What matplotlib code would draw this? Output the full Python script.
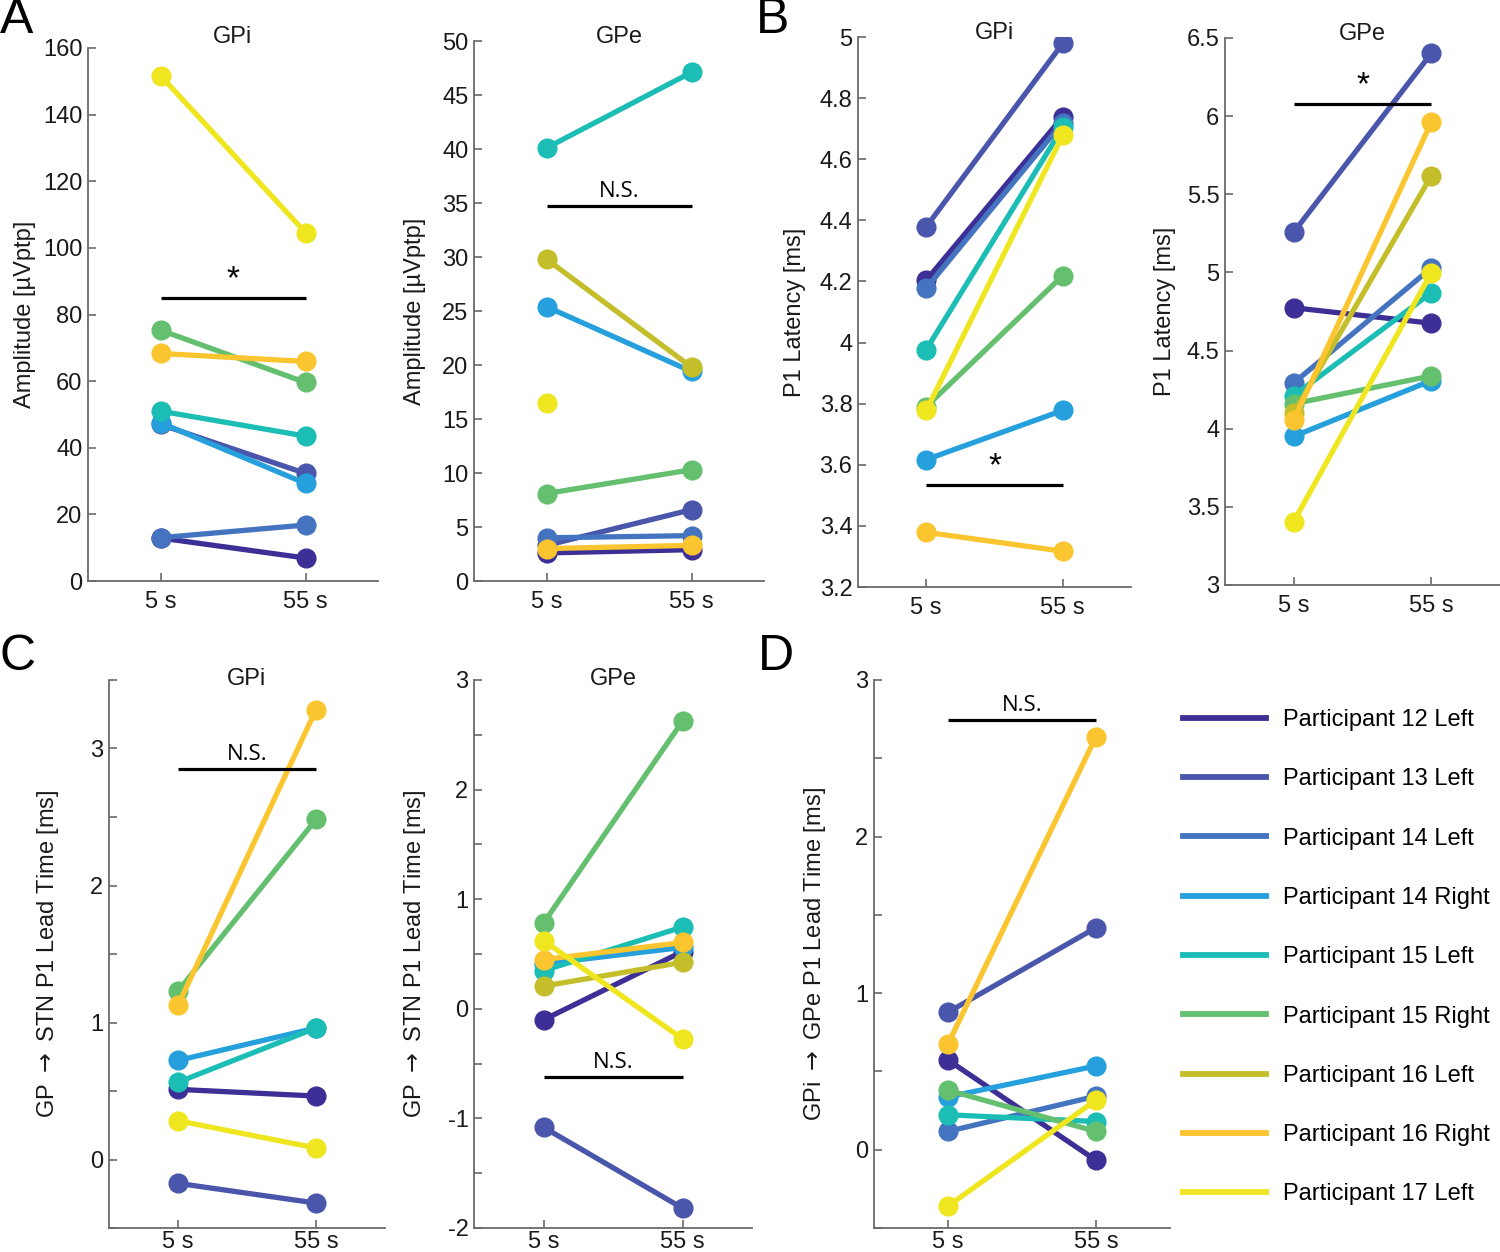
import numpy as np
import matplotlib
matplotlib.use("Agg")
import matplotlib.pyplot as plt
from matplotlib.ticker import FuncFormatter

plt.rcParams['font.family'] = ['Liberation Sans', 'DejaVu Sans']

# participants and colours (parula-like)
participants = ["Participant 12 Left", "Participant 13 Left", "Participant 14 Left",
                "Participant 14 Right", "Participant 15 Left", "Participant 15 Right",
                "Participant 16 Left", "Participant 16 Right", "Participant 17 Left"]
colors = ["#3c2f96", "#4a56ab", "#4473c0", "#25a0dc", "#1bbdb5",
          "#64bf6f", "#c4be2a", "#fbc52f", "#f0e620"]
time_labels = ["5 s", "55 s"]
nan = np.nan

# A: amplitude [uVptp]
amp_gpi_5 = [12.9, 47.0, 13.0, 47.5, 51.0, 75.3, nan, 68.3, 151.7]
amp_gpi_55 = [6.9, 32.3, 16.8, 29.3, 43.5, 59.6, nan, 65.9, 104.6]
amp_gpe_5 = [2.6, 3.3, 4.0, 25.4, 40.1, 8.1, 29.8, 3.0, 16.5]
amp_gpe_55 = [2.9, 6.6, 4.2, 19.4, 47.1, 10.3, 19.8, 3.3, nan]

# B: P1 latency [ms]
lat_gpi_5 = [4.204, 4.379, 4.178, 3.617, 3.977, 3.79, nan, 3.379, 3.778]
lat_gpi_55 = [4.739, 4.979, 4.72, 3.778, 4.704, 4.219, nan, 3.317, 4.678]
lat_gpe_5 = [4.774, 5.258, 4.293, 3.951, 4.211, 4.16, 4.10, 4.055, 3.406]
lat_gpe_55 = [4.675, 6.401, 5.028, 4.308, 4.870, 4.338, 5.618, 5.96, 4.997]

# C: GP -> STN lead time [ms]
lead_gpi_5 = [0.512, -0.174, nan, 0.723, 0.564, 1.229, nan, 1.125, 0.283]
lead_gpi_55 = [0.463, -0.318, nan, 0.960, 0.960, 2.482, nan, 3.283, 0.084]
lead_gpe_5 = [-0.101, -1.081, nan, 0.41, 0.348, 0.782, 0.207, 0.449, 0.623]
lead_gpe_55 = [0.522, -1.819, nan, 0.56, 0.746, 2.624, 0.424, 0.605, -0.274]

# D: GPi -> GPe lead time [ms]
gpi_gpe_5 = [0.573, 0.878, 0.117, 0.337, 0.223, 0.380, nan, 0.675, -0.360]
gpi_gpe_55 = [-0.068, 1.418, 0.342, 0.535, 0.180, 0.117, nan, 2.638, 0.317]

W, H = 1500, 1252
fig = plt.figure(figsize=(W / 100, H / 100), dpi=100)
AXC = '#6a6a6a'
TXC = '#1a1a1a'


def px_axes(left, right, top, bottom):
    return fig.add_axes([left / W, 1 - bottom / H, (right - left) / W, (bottom - top) / H])


def g_fmt(v, pos):
    return "%g" % round(v, 6)


def int_fmt(v, pos):
    if abs(v - round(v)) < 1e-6:
        return "%d" % round(v)
    return ""


def draw_panel(rect, v5, v55, ylim, yticks, ylabel, label_x, sig_y, sig_text,
               title=None, title_y=0, fmt=g_fmt, xpad=7):
    ax = px_axes(*rect)
    for i in range(len(participants)):
        ax.plot([1, 2], [v5[i], v55[i]], '-o', color=colors[i], lw=3.8,
                markersize=13.5, solid_capstyle='butt')
    ax.set_xlim(0.5, 2.5)
    ax.set_ylim(*ylim)
    ax.set_xticks([1, 2])
    ax.set_xticklabels(time_labels)
    ax.set_yticks(yticks)
    ax.yaxis.set_major_formatter(FuncFormatter(fmt))
    for s in ['top', 'right']:
        ax.spines[s].set_visible(False)
    for s in ['left', 'bottom']:
        ax.spines[s].set_color(AXC)
        ax.spines[s].set_linewidth(1.3)
    ax.tick_params(direction='in', length=6, width=1.2, color=AXC,
                   labelsize=17, labelcolor=TXC)
    ax.tick_params(axis='y', pad=4)
    ax.tick_params(axis='x', pad=xpad)
    ax.set_ylabel(ylabel, fontsize=17, va='center', color=TXC)
    ax.yaxis.set_label_coords(label_x, 0.5)
    # significance bar
    ax.plot([1, 2], [sig_y, sig_y], color='black', lw=2.3, solid_capstyle='butt')
    if sig_text == '*':
        ax.annotate('*', xy=(1.5, sig_y), xytext=(0, 2), textcoords='offset points',
                    ha='center', va='bottom', fontsize=24)
    else:
        ax.annotate(sig_text, xy=(1.5, sig_y), xytext=(0, 3), textcoords='offset points',
                    ha='center', va='bottom', fontsize=16, family=['Open Sans', 'DejaVu Sans'])
    if title:
        fig.text((rect[0] + rect[1]) / 2 / W, 1 - title_y / H, title, fontsize=17,
                 ha='center', va='center', color=TXC)
    return ax


# row 1
draw_panel((88, 378, 48, 581), amp_gpi_5, amp_gpi_55, (0, 160), np.arange(0, 161, 20),
           "Amplitude [\u00b5Vptp]", -0.217, 85, '*', title="GPi", title_y=37)
draw_panel((474, 764, 41, 581), amp_gpe_5, amp_gpe_55, (0, 50), np.arange(0, 51, 5),
           "Amplitude [\u00b5Vptp]", -0.203, 34.7, 'N.S.', title="GPe", title_y=37)
draw_panel((858, 1131, 37, 587), lat_gpi_5, lat_gpi_55, (3.2, 5), np.arange(3.2, 5.01, 0.2),
           "P1 Latency [ms]", -0.231, 3.535, '*', title="GPi", title_y=33)
draw_panel((1225, 1500, 38, 585), lat_gpe_5, lat_gpe_55, (3, 6.5), np.arange(3, 6.51, 0.5),
           "P1 Latency [ms]", -0.218, 6.079, '*', title="GPe", title_y=34)

# row 2
draw_panel((109, 385, 680, 1228), lead_gpi_5, lead_gpi_55, (-0.5, 3.5), np.arange(-0.5, 3.51, 0.5),
           r"GP $\rightarrow$ STN P1 Lead Time [ms]", -0.221, 2.852, 'N.S.',
           title="GPi", title_y=679, fmt=int_fmt, xpad=2)
draw_panel((474, 752, 680, 1228), lead_gpe_5, lead_gpe_55, (-2, 3), np.arange(-2, 3.01, 0.5),
           r"GP $\rightarrow$ STN P1 Lead Time [ms]", -0.212, -0.622, 'N.S.',
           title="GPe", title_y=679, fmt=int_fmt, xpad=2)
draw_panel((874, 1170, 680, 1228), gpi_gpe_5, gpi_gpe_55, (-0.5, 3), np.arange(-0.5, 3.01, 0.5),
           r"GPi $\rightarrow$ GPe P1 Lead Time [ms]", -0.199, 2.742, 'N.S.',
           fmt=int_fmt, xpad=2)

# panel letters
for letter, x, y in [("A", 0, 20), ("B", 756, 20), ("C", 0, 657), ("D", 758, 657)]:
    fig.text(x / W, 1 - y / H, letter, fontsize=36, ha='left', va='center')

# legend
handles = [plt.Line2D([], [], color=c, lw=4.2) for c in colors]
fig.legend(handles, participants, loc='upper left', bbox_to_anchor=(1183 / W, 1 - 709 / H),
           frameon=False, fontsize=17, handlelength=3.5, handletextpad=0.75,
           labelspacing=1.58, borderpad=0, borderaxespad=0)

fig.savefig("out.png", dpi=100)
